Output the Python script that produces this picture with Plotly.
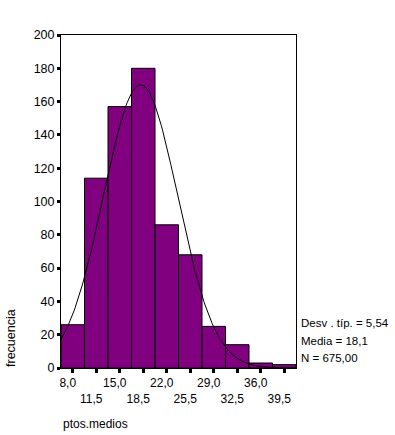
import numpy as np
import plotly.graph_objects as go

# Data
midpoints = [8.0, 11.5, 15.0, 18.5, 22.0, 25.5, 29.0, 32.5, 36.0, 39.5]
counts = [26, 114, 157, 180, 86, 68, 25, 14, 3, 2]
tick_labels = ["8,0", "11,5", "15,0", "18,5", "22,0", "25,5", "29,0", "32,5", "36,0", "39,5"]
y_ticks = [0, 20, 40, 60, 80, 100, 120, 140, 160, 180, 200]
mean = 18.1
sd = 5.54
n_total = 675
bin_width = 3.5
stats_lines = ["Desv . típ. = 5,54", "Media = 18,1", "N = 675,00"]

FONT = "Liberation Sans, Arial, sans-serif"

W, H = 395, 435
L, R, T, B = 61, 296, 35, 368
pw, ph = R - L, B - T


def px_x(x):
    return (x - L) / pw


def px_y(y):
    return (B - y) / ph


# fitted normal curve from the displayed statistics
x_lo = midpoints[0] - bin_width / 2
x_hi = midpoints[-1] + bin_width / 2
xc = np.linspace(x_lo, x_hi, 200)
yc = n_total * bin_width / (sd * np.sqrt(2 * np.pi)) * np.exp(-0.5 * ((xc - mean) / sd) ** 2)

fig = go.Figure()
fig.add_trace(go.Bar(
    x=midpoints, y=counts, width=bin_width,
    marker=dict(color="#800080", line=dict(color="black", width=1)),
    hoverinfo="skip",
))
fig.add_trace(go.Scatter(
    x=xc, y=yc, mode="lines",
    line=dict(color="black", width=1),
    hoverinfo="skip",
))

ticktext = [t if i % 2 == 0 else "<br>" + t for i, t in enumerate(tick_labels)]

fig.update_layout(
    width=W, height=H,
    margin=dict(l=L, r=W - R, t=T, b=H - B),
    paper_bgcolor="white", plot_bgcolor="white",
    showlegend=False,
    font=dict(family=FONT, size=12, color="black"),
    bargap=0,
    xaxis=dict(
        range=[x_lo, x_hi],
        tickvals=midpoints, ticktext=ticktext, tickangle=0,
        ticks="outside", ticklen=4, tickwidth=3, tickcolor="black",
        showline=True, linecolor="black", linewidth=1, mirror=True,
        showgrid=False, zeroline=False, automargin=False,
        ticklabelshift=-5,
        tickfont=dict(family=FONT, size=12),
    ),
    yaxis=dict(
        range=[0, 200],
        tickvals=y_ticks,
        ticks="outside", ticklen=3, tickwidth=3, tickcolor="black",
        showline=True, linecolor="black", linewidth=1, mirror=True,
        showgrid=False, zeroline=False, automargin=False,
        tickfont=dict(family=FONT, size=12.5),
    ),
)

fig.add_annotation(
    text="frecuencia", textangle=-90, showarrow=False,
    xref="paper", yref="paper", x=px_x(11), y=px_y(338),
    xanchor="center", yanchor="middle",
    font=dict(family=FONT, size=12.5),
)
fig.add_annotation(
    text="ptos.medios", showarrow=False,
    xref="paper", yref="paper", x=px_x(61), y=px_y(424),
    xanchor="left", yanchor="middle",
    font=dict(family=FONT, size=12),
)
for line, yp in zip(stats_lines, [323, 340.5, 358]):
    fig.add_annotation(
        text=line, showarrow=False, align="left",
        xref="paper", yref="paper", x=px_x(299), y=px_y(yp),
        xanchor="left", yanchor="middle",
        font=dict(family=FONT, size=11.5),
    )

fig.write_html(
    "out.html",
    config={"displayModeBar": False, "staticPlot": True},
    post_script="document.body.style.margin='0';",
)
